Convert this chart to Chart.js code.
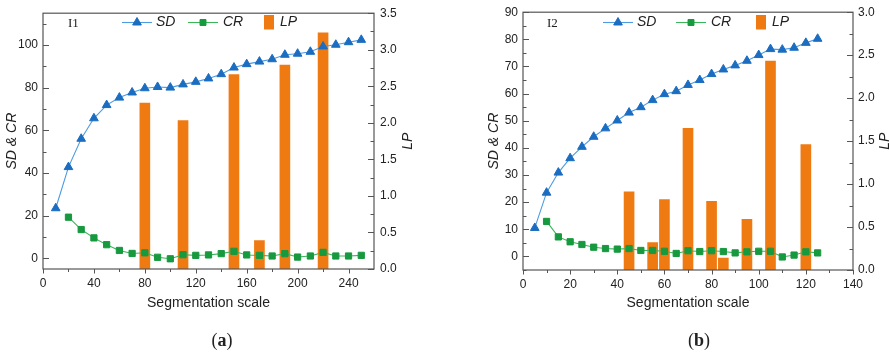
<!DOCTYPE html>
<html><head><meta charset="utf-8">
<script src="https://cdn.jsdelivr.net/npm/chart.js@4.4.1/dist/chart.umd.min.js"></script>
<style>
html,body{margin:0;padding:0;background:#fff;}
#wrap{position:relative;width:890px;height:356px;overflow:hidden;background:#fff;}
.cv{position:absolute;top:0;width:445px;height:356px;}
.lab{position:absolute;top:330px;height:20px;line-height:20px;width:60px;text-align:center;font-family:'Liberation Serif',serif;font-size:18px;color:#222;}
.lab b{font-weight:bold;}
</style></head><body>
<div id="wrap">
  <div class="cv" style="left:0"><canvas id="c1" width="445" height="356"></canvas></div>
  <div class="cv" style="left:445px"><canvas id="c2" width="445" height="356"></canvas></div>
  <div class="lab" style="left:192px">(<b>a</b>)</div>
  <div class="lab" style="left:669px">(<b>b</b>)</div>
</div>
<script>
// ---------- Panel (a): I1 ----------
const SD1_X = [10,20,30,40,50,60,70,80,90,100,110,120,130,140,150,160,170,180,190,200,210,220,230,240,250];
const SD1   = [23.5,42.8,56.1,65.7,71.9,75.4,77.8,79.8,80.4,80.1,81.6,82.8,84.4,86.4,89.5,91.1,92.3,93.4,95.5,96.0,96.9,99.4,100.2,101.4,102.5];
const CR1_X = [20,30,40,50,60,70,80,90,100,110,120,130,140,150,160,170,180,190,200,210,220,230,240,250];
const CR1   = [19.3,13.5,9.6,6.4,3.7,2.3,2.6,0.5,-0.2,1.7,1.4,1.6,2.2,3.3,1.6,1.4,1.1,2.2,0.6,1.1,2.8,1.1,1.1,1.4];
const LP1_X = [80,110,150,170,190,220];
const LP1   = [2.27,2.03,2.66,0.39,2.79,3.23];
const X1_TICKS = [0,40,80,120,160,200,240];
const Y1_TICKS = [0,20,40,60,80,100];
const R1_TICKS = [0,0.5,1,1.5,2,2.5,3,3.5];

// ---------- Panel (b): I2 ----------
const SD2_X = [5,10,15,20,25,30,35,40,45,50,55,60,65,70,75,80,85,90,95,100,105,110,115,120,125];
const SD2   = [10.5,23.5,30.9,36.2,40.4,44.1,47.2,50.1,53.0,55.0,57.6,59.8,60.9,63.2,65.0,67.2,68.9,70.4,72.1,74.2,76.4,76.2,76.9,78.7,80.2];
const CR2_X = [10,15,20,25,30,35,40,45,50,55,60,65,70,75,80,85,90,95,100,105,110,115,120,125];
const CR2   = [12.9,7.2,5.4,4.4,3.4,2.9,2.7,2.9,2.2,2.2,1.9,1.1,2.1,1.8,2.1,1.8,1.3,1.7,1.9,1.9,-0.2,0.5,1.7,1.3];
const LP2_X = [45,55,60,70,80,85,95,105,120];
const LP2   = [0.91,0.32,0.82,1.65,0.80,0.14,0.59,2.43,1.46];
const X2_TICKS = [0,20,40,60,80,100,120,140];
const Y2_TICKS = [0,10,20,30,40,50,60,70,80,90];
const R2_TICKS = [0,0.5,1,1.5,2,2.5,3];

const SD_LINE = '#4d9be0', SD_MARK = '#1b6dc1';
const CR_LINE = '#3cb45a', CR_MARK = '#17993f';
const LP_COL  = '#f07a12';
const AXIS = '#555555', TXT = '#222222';
const SANS = "'Liberation Sans', Arial, sans-serif";

function toXY(xs, ys){ return xs.map((x,i)=>({x:x, y:ys[i]})); }
function minors(major, min, max){
  const step = major[1]-major[0], res=[];
  for (let v = major[0]-step/2; v <= max+1e-9; v += step) if (v >= min-1e-9) res.push(+v.toFixed(4));
  return res;
}

function deco(p){
  return {
    id:'deco',
    afterDraw(chart){
      const {ctx, chartArea:a, scales} = chart;
      const xs = scales.x, yl = scales.y, yr = scales.y1;
      ctx.save();
      // frame
      ctx.strokeStyle = AXIS; ctx.lineWidth = 1.2;
      ctx.strokeRect(a.left, a.top, a.right-a.left, a.bottom-a.top);
      ctx.lineWidth = 1;
      ctx.beginPath();
      const hy = (s,v)=>Math.round(s.getPixelForValue(v))+0.5;
      p.yTicks.forEach(v=>{const y=hy(yl,v); ctx.moveTo(a.left,y); ctx.lineTo(a.left+6,y);});
      minors(p.yTicks,p.yMin,p.yMax).forEach(v=>{const y=hy(yl,v); ctx.moveTo(a.left,y); ctx.lineTo(a.left+3.5,y);});
      p.rTicks.forEach(v=>{const y=hy(yr,v); ctx.moveTo(a.right,y); ctx.lineTo(a.right-6,y);});
      minors(p.rTicks,p.rMin,p.rMax).forEach(v=>{const y=hy(yr,v); ctx.moveTo(a.right,y); ctx.lineTo(a.right-3.5,y);});
      p.xTicks.forEach(v=>{const x=hy(xs,v); ctx.moveTo(x,a.bottom); ctx.lineTo(x,a.bottom+4.5);});
      minors(p.xTicks,p.xMin,p.xMax).forEach(v=>{ if (v < p.xMax) {const x=hy(xs,v); ctx.moveTo(x,a.bottom); ctx.lineTo(x,a.bottom+3);} });
      ctx.stroke();

      // panel label
      ctx.fillStyle = TXT;
      ctx.font = "13px 'Liberation Serif', serif";
      ctx.textBaseline = 'middle'; ctx.textAlign = 'left';
      ctx.fillText(p.name, p.nameX, 24);

      // legend
      const ly = 22.5;
      const H = Chart.helpers;
      ctx.font = "italic 14px " + SANS;
      // SD
      ctx.strokeStyle = SD_LINE; ctx.lineWidth = 1.1;
      ctx.beginPath(); ctx.moveTo(p.leg[0], ly); ctx.lineTo(p.leg[0]+30, ly); ctx.stroke();
      ctx.fillStyle = SD_MARK; ctx.strokeStyle = SD_MARK; ctx.lineWidth = 1;
      H.drawPoint(ctx, {pointStyle:'triangle', radius:5, rotation:0, borderWidth:1}, p.leg[0]+15, ly);
      ctx.fillStyle = TXT; ctx.fillText('SD', p.leg[0]+34, ly);
      // CR
      ctx.strokeStyle = CR_LINE; ctx.lineWidth = 1.1;
      ctx.beginPath(); ctx.moveTo(p.leg[1], ly); ctx.lineTo(p.leg[1]+30, ly); ctx.stroke();
      ctx.fillStyle = CR_MARK; ctx.strokeStyle = CR_MARK; ctx.lineWidth = 1;
      H.drawPoint(ctx, {pointStyle:'rect', radius:4.2, rotation:0, borderWidth:1}, p.leg[1]+15, ly);
      ctx.fillStyle = TXT; ctx.fillText('CR', p.leg[1]+35, ly);
      // LP
      ctx.fillStyle = LP_COL; ctx.fillRect(p.leg[2], 15, 10, 14.5);
      ctx.fillStyle = TXT; ctx.fillText('LP', p.leg[2]+16, ly);

      // right axis title
      ctx.save();
      ctx.translate(p.rTitleX, (a.top+a.bottom)/2);
      ctx.rotate(-Math.PI/2);
      ctx.textAlign = 'center'; ctx.textBaseline = 'middle';
      ctx.font = "italic 14px " + SANS;
      ctx.fillText('LP', 0, 0);
      ctx.restore();
      ctx.restore();
    }
  };
}

function build(id, p){
  const tickFont = {family:SANS, size:12};
  new Chart(document.getElementById(id), {
    type:'line',
    data:{ datasets:[
      {label:'SD', data:toXY(p.sdX,p.sd), yAxisID:'y', borderColor:SD_LINE, borderWidth:1.1, tension:0,
       pointStyle:'triangle', pointRadius:5, pointBackgroundColor:SD_MARK, pointBorderColor:SD_MARK, pointBorderWidth:1, order:1},
      {label:'CR', data:toXY(p.crX,p.cr), yAxisID:'y', borderColor:CR_LINE, borderWidth:1.1, tension:0,
       pointStyle:'rect', pointRadius:4.4, pointBackgroundColor:CR_MARK, pointBorderColor:CR_MARK, pointBorderWidth:1, order:2},
      {type:'bar', label:'LP', data:toXY(p.lpX,p.lp), yAxisID:'y1', backgroundColor:LP_COL, borderWidth:0, barThickness:10, order:3}
    ]},
    options:{
      responsive:false, animation:false, events:[],
      layout:{padding:p.pad},
      plugins:{legend:{display:false}, tooltip:{enabled:false}},
      scales:{
        x:{type:'linear', min:p.xMin, max:p.xMax, offset:false,
           grid:{display:false, drawTicks:false}, border:{display:false},
           ticks:{font:tickFont, color:TXT, padding:7, autoSkip:false, maxRotation:0},
           afterBuildTicks:s=>{ s.ticks = p.xTicks.map(v=>({value:v})); },
           afterFit:s=>{ s.height = p.xH; },
           title:{display:true, text:'Segmentation scale', color:TXT, font:{family:SANS, size:14}, padding:{top:0,bottom:4}}},
        y:{type:'linear', position:'left', min:p.yMin, max:p.yMax,
           grid:{display:false, drawTicks:false}, border:{display:false},
           ticks:{font:tickFont, color:TXT, padding:5, autoSkip:false},
           afterBuildTicks:s=>{ s.ticks = p.yTicks.map(v=>({value:v})); },
           afterFit:s=>{ s.width = p.yW; },
           title:{display:true, text:'SD & CR', color:TXT, font:{family:SANS, size:14, style:'italic'}, padding:{top:4,bottom:4}}},
        y1:{type:'linear', position:'right', min:p.rMin, max:p.rMax,
           grid:{display:false, drawTicks:false}, border:{display:false},
           ticks:{font:tickFont, color:TXT, padding:p.rPad, autoSkip:false, callback:v=>Number(v).toFixed(1)},
           afterBuildTicks:s=>{ s.ticks = p.rTicks.map(v=>({value:v})); },
           afterFit:s=>{ s.width = p.rW; }}
      }
    },
    plugins:[deco(p)]
  });
}

build('c1', {
  sdX:SD1_X, sd:SD1, crX:CR1_X, cr:CR1, lpX:LP1_X, lp:LP1,
  xMin:0, xMax:260, yMin:-5, yMax:115, rMin:0, rMax:3.5,
  xTicks:X1_TICKS, yTicks:Y1_TICKS, rTicks:R1_TICKS,
  pad:{left:0, right:0, top:12, bottom:40}, xH:47, yW:43, rW:71, rPad:6,
  name:'I1', nameX:68, leg:[122,188,264], rTitleX:408
});
build('c2', {
  sdX:SD2_X, sd:SD2, crX:CR2_X, cr:CR2, lpX:LP2_X, lp:LP2,
  xMin:0, xMax:140, yMin:-5, yMax:90, rMin:0, rMax:3.0,
  xTicks:X2_TICKS, yTicks:Y2_TICKS, rTicks:R2_TICKS,
  pad:{left:37, right:0, top:10, bottom:40}, xH:46, yW:41, rW:37, rPad:5,
  name:'I2', nameX:102, leg:[158,231,311], rTitleX:440.5
});
</script>
</body></html>
